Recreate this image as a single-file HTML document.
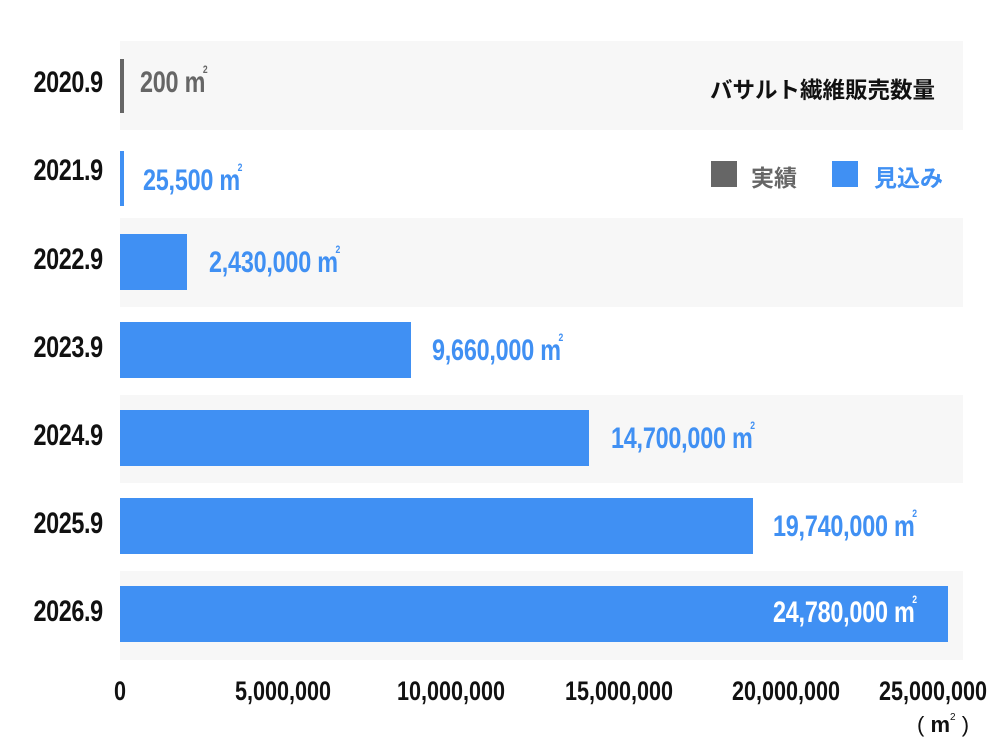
<!DOCTYPE html>
<html><head><meta charset="utf-8"><style>
body{margin:0;width:1000px;height:755px;background:#fff;position:relative;overflow:hidden;font-family:"Liberation Sans",sans-serif;font-weight:bold}
.band{position:absolute;left:120px;width:843px;background:#f7f7f7}
.bar{position:absolute;left:120px;height:56px;background:#4090f3}
.yl{position:absolute;right:897px;font-size:30px;color:#111;transform:scaleX(0.78);transform-origin:right center;letter-spacing:-0.5px}
.v{position:absolute;font-size:30px;color:#4090f3;white-space:nowrap;transform:scaleX(0.78);transform-origin:left center;letter-spacing:-0.3px}
.v sup{font-size:11px;vertical-align:top;position:relative;top:-2px;margin-left:-3px}
.t{position:absolute;top:676px;font-size:27px;color:#111;transform:translateX(-50%) scaleX(0.8);white-space:nowrap}
.jp{font-family:"Liberation Sans","Noto Sans CJK JP",sans-serif}
</style></head><body>
<div class="band" style="top:41px;height:89px"></div>
<div class="band" style="top:218px;height:89px"></div>
<div class="band" style="top:395px;height:88px"></div>
<div class="band" style="top:571px;height:89px"></div>

<div style="position:absolute;left:120px;top:59px;width:4px;height:54px;background:#666"></div>
<div style="position:absolute;left:120px;top:151px;width:4px;height:55px;background:#4090f3"></div>
<div class="bar" style="top:234px;width:67px"></div>
<div class="bar" style="top:322px;width:291px"></div>
<div class="bar" style="top:410px;width:469px"></div>
<div class="bar" style="top:498px;width:633px"></div>
<div class="bar" style="top:586px;width:828px"></div>

<div class="yl" style="top:66px">2020.9</div>
<div class="yl" style="top:154px">2021.9</div>
<div class="yl" style="top:243px">2022.9</div>
<div class="yl" style="top:331px">2023.9</div>
<div class="yl" style="top:419px">2024.9</div>
<div class="yl" style="top:507px">2025.9</div>
<div class="yl" style="top:595px">2026.9</div>

<div class="v" style="left:140px;top:66px;color:#666">200 m<sup>2</sup></div>
<div class="v" style="left:143px;top:164px">25,500 m<sup>2</sup></div>
<div class="v" style="left:209px;top:246px">2,430,000 m<sup>2</sup></div>
<div class="v" style="left:432px;top:334px">9,660,000 m<sup>2</sup></div>
<div class="v" style="left:611px;top:422px">14,700,000 m<sup>2</sup></div>
<div class="v" style="left:773px;top:510px">19,740,000 m<sup>2</sup></div>
<div class="v" style="left:773px;top:596px;color:#fff">24,780,000 m<sup>2</sup></div>

<div class="jp" style="position:absolute;left:710px;top:73px;font-size:22.5px;color:#111">バサルト繊維販売数量</div>
<div style="position:absolute;left:711px;top:161px;width:26px;height:26px;background:#666"></div>
<div class="jp" style="position:absolute;left:751px;top:159px;font-size:23px;color:#666">実績</div>
<div style="position:absolute;left:832px;top:161px;width:26px;height:26px;background:#4090f3"></div>
<div class="jp" style="position:absolute;left:874px;top:159px;font-size:23px;color:#4090f3">見込み</div>

<div class="t" style="left:120px">0</div>
<div class="t" style="left:283px">5,000,000</div>
<div class="t" style="left:451px">10,000,000</div>
<div class="t" style="left:619px">15,000,000</div>
<div class="t" style="left:786px">20,000,000</div>
<div class="t" style="left:933px">25,000,000</div>
<div class="jp" style="position:absolute;left:917px;top:712px;font-size:22px;color:#111;font-weight:normal">(&nbsp;<b>m</b><sup style="font-size:10px;vertical-align:top">2</sup>&nbsp;)</div>
</body></html>
